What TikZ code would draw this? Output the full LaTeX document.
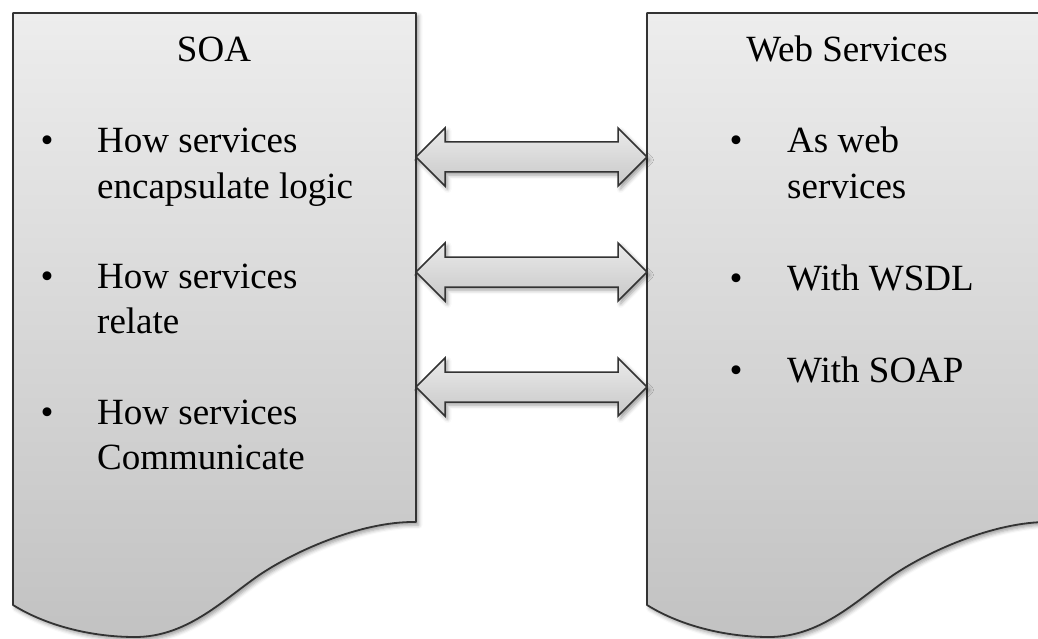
\documentclass[tikz,border=0pt]{standalone}
\usepackage{fontspec}
\setmainfont{Liberation Serif}
\usetikzlibrary{calc,shadows.blur}

\definecolor{outline}{HTML}{333333}
\definecolor{docTop}{HTML}{EDEDED}
\definecolor{docBottom}{HTML}{C2C2C2}
\definecolor{arrTop}{HTML}{EAEAEA}
\definecolor{arrBottom}{HTML}{C8C8C8}

\tikzset{
  softshadow/.style={blur shadow={shadow xshift=2.5pt, shadow yshift=-3pt, shadow blur radius=4pt}},
  docpage/.style={draw=outline, line width=1.8pt, line join=round,
    top color=docTop, bottom color=docBottom, softshadow},
  arrowbody/.style={draw=outline, line width=1.5pt, line join=miter,
    top color=arrTop, bottom color=arrBottom, softshadow},
  bigtext/.style={font=\fontsize{37}{45}\selectfont, inner sep=0pt, text=black},
  heading/.style={bigtext, anchor=base},
  % base anchor of a multi-line node sits on its last line
  itemtext/.style={bigtext, align=left, anchor=base west},
  bulletmark/.style={bigtext, anchor=base},
}

% page with a wavy lower edge; #1 = horizontal offset
\newcommand\wavypage[1]{%
  \path[docpage, shift={(#1,0)}]
    (13,13) -- (416,13) -- (416,522)
    .. controls (360,521) and (290,553) .. (255,578)
    .. controls (220,603) and (185,637) .. (135,637)
    .. controls (90,637) and (45,625) .. (13,605) -- cycle;}

% two-way block arrow between tips #1 (left) and #2 (right)
\newcommand\twowayarrow[2]{%
  \path[arrowbody] (#1) -- ++(29,-29) -- ++(0,14)
    -- ($(#2)+(-29,-15)$) -- ++(0,-14) -- (#2) -- ++(-29,29) -- ++(0,-14)
    -- ($(#1)+(29,15)$) -- ++(0,14) -- cycle;}

\begin{document}
\begin{tikzpicture}[x=1pt, y=-1pt]
  \useasboundingbox (0,0) rectangle (1038,639);
  \clip (0,0) rectangle (1038,639);

  % the two pages
  \wavypage{0}
  \wavypage{634}

  % arrow tips on the page edges
  \coordinate (soa1) at (416,157);
  \coordinate (soa2) at (416,272);
  \coordinate (soa3) at (416,387);
  \coordinate (ws1)  at (647,157);
  \coordinate (ws2)  at (647,272);
  \coordinate (ws3)  at (647,387);

  \twowayarrow{soa1}{ws1}
  \twowayarrow{soa2}{ws2}
  \twowayarrow{soa3}{ws3}

  % headings
  \node[heading] (soatitle) at (214,62) {SOA};
  \node[heading] (wstitle)  at (847,62) {Web Services};

  % SOA items
  \node[bulletmark] (sb1) at (47,153) {•};
  \node[itemtext]   (si1) at (97,198) {How services\\encapsulate logic};
  \node[bulletmark] (sb2) at (47,288) {•};
  \node[itemtext]   (si2) at (97,333) {How services\\relate};
  \node[bulletmark] (sb3) at (47,424) {•};
  \node[itemtext]   (si3) at (97,469) {How services\\Communicate};

  % Web Services items
  \node[bulletmark] (wb1) at (736,153) {•};
  \node[itemtext]   (wi1) at (787,198) {As web\\services};
  \node[bulletmark] (wb2) at (736,290) {•};
  \node[itemtext]   (wi2) at (787,290) {With WSDL};
  \node[bulletmark] (wb3) at (736,382) {•};
  \node[itemtext]   (wi3) at (787,382) {With SOAP};
\end{tikzpicture}
\end{document}
